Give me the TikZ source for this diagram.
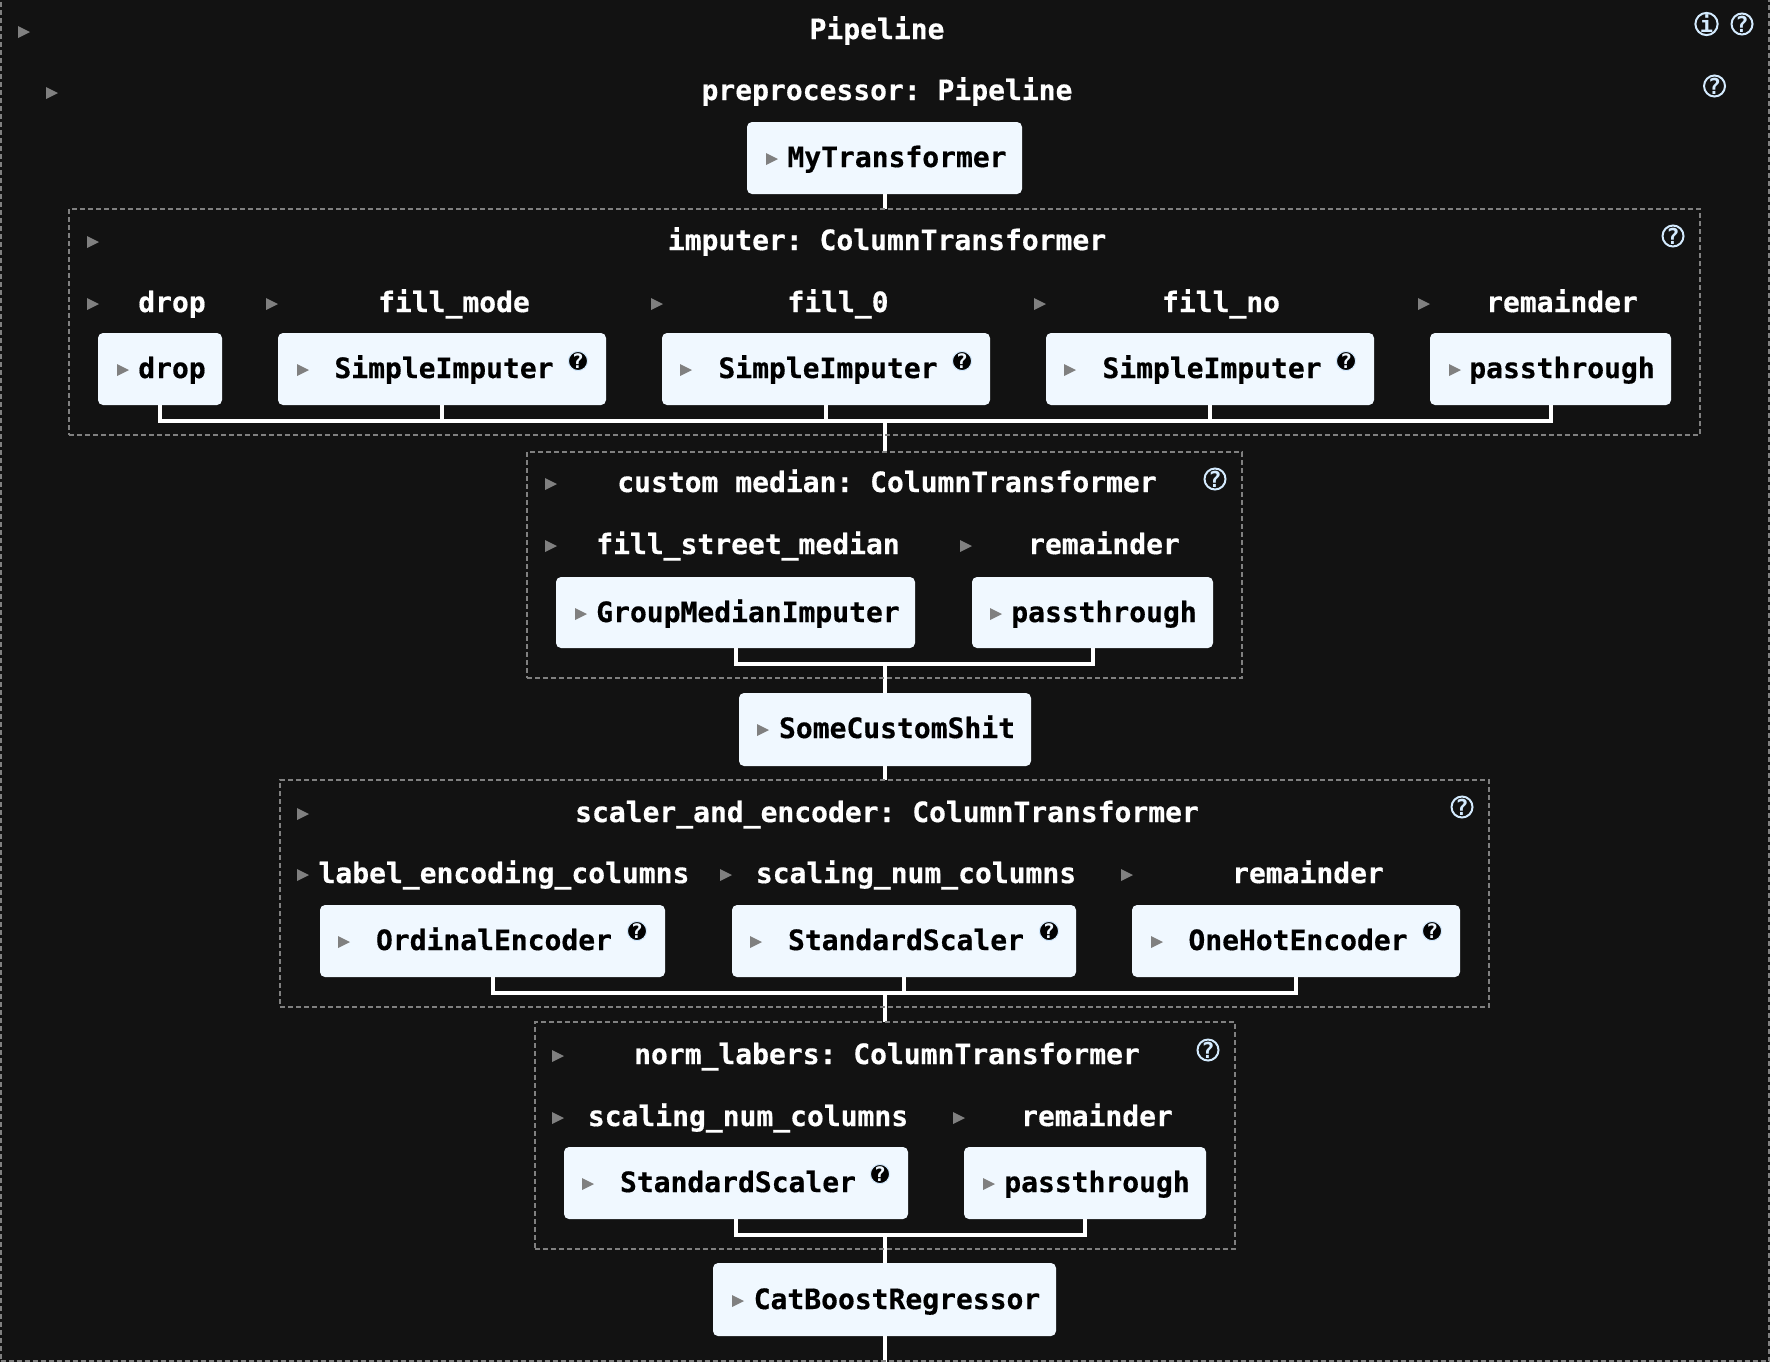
\documentclass[tikz,border=0pt]{standalone}
\usepackage{fontspec}
\setmonofont[BoldFeatures={FakeBold=0.5}]{DejaVu Sans Mono}
\newfontfamily\iconfont{DejaVu Sans Mono Bold}
\usetikzlibrary{fit}
\definecolor{pagebg}{HTML}{121212}
\definecolor{boxbg}{HTML}{F0F8FF}
\definecolor{tricol}{HTML}{808080}
\definecolor{iconcol}{HTML}{D4EBFF}
\pgfdeclarelayer{bglayer}
\pgfdeclarelayer{connlayer}
\pgfsetlayers{bglayer,connlayer,main}
\tikzset{
  every node/.style={outer sep=0pt},
  txt/.style={font=\ttfamily\bfseries\fontsize{14}{14}\selectfont,anchor=base,inner sep=0pt},
  lighttxt/.style={txt,text=white},
  darktxt/.style={txt,text=black},
  stagebox/.style={fill=boxbg,rounded corners=2.5pt,inner sep=0pt,draw=none},
  dashbox/.style={draw=tricol,line width=1pt,dash pattern=on 2.5pt off 1.5pt,inner sep=0pt},
  conn/.style={draw=white,line width=2pt,line join=miter,line cap=butt},
  helpout/.style={circle,draw=iconcol,line width=1pt,minimum size=10pt,inner sep=0pt,text=iconcol,font=\iconfont\fontsize{11}{11}\selectfont},
  helpin/.style={circle,fill=black!90!pagebg,draw=iconcol,line width=0.5pt,minimum size=9.5pt,inner sep=0pt,text=boxbg,font=\iconfont\fontsize{10}{10}\selectfont},
}
\newcommand{\mytri}[2]{\fill[tricol] (#1,#2) ++(-6,-6) -- ++(12,6) -- ++(-12,6) -- cycle;}
\newcommand{\mybox}[5]{\node[stagebox,fit={(#2,#3)(#4,#5)}] (#1) {};}
\newcommand{\mydash}[5]{\node[dashbox,fit={(#2,#3)(#4,#5)}] (#1) {};}
\begin{document}
\begin{tikzpicture}[x=0.5pt,y=-0.5pt]
\useasboundingbox (0,0) rectangle (1770,1362);
\begin{pgfonlayer}{bglayer}
\fill[pagebg] (0,0) rectangle (1770,1362);
\end{pgfonlayer}
\clip (0,0) rectangle (1770,1362);

% dashed containers
\mydash{outer}{0.5}{-10}{1769}{1361}
\mydash{imputer}{69}{209}{1700}{435}
\mydash{custom}{527}{452}{1242}{678}
\mydash{scaler}{280}{780}{1489}{1007}
\mydash{norm}{535}{1022}{1235}{1249}

% boxes
\mybox{mytr}{747}{122}{1022}{194}
\mybox{drop}{98}{333}{222}{405}
\mybox{simpleA}{278}{333}{606}{405}
\mybox{simpleB}{662}{333}{990}{405}
\mybox{simpleC}{1046}{333}{1374}{405}
\mybox{passA}{1430}{333}{1671}{405}
\mybox{group}{556}{577}{915}{648}
\mybox{passB}{972}{577}{1213}{648}
\mybox{shit}{739}{693}{1031}{766}
\mybox{ordinal}{320}{905}{665}{977}
\mybox{stdA}{732}{905}{1076}{977}
\mybox{onehot}{1132}{905}{1460}{977}
\mybox{stdB}{564}{1147}{908}{1219}
\mybox{passC}{964}{1147}{1206}{1219}
\mybox{cat}{713}{1263}{1056}{1336}

% junctions
\coordinate (joinA) at (885,421);
\coordinate (joinB) at (885,664);
\coordinate (joinC) at (885,993);
\coordinate (joinD) at (885,1235);
\coordinate (tail) at (885,1362);

\begin{pgfonlayer}{connlayer}
\draw[conn] (mytr.south -| joinA) -- (joinA |- imputer.north);
\draw[conn] (drop.south) -- (drop.south |- joinA) -- (passA.south |- joinA) -- (passA.south);
\draw[conn] (simpleA.south) -- (simpleA.south |- joinA);
\draw[conn] (simpleB.south) -- (simpleB.south |- joinA);
\draw[conn] (simpleC.south) -- (simpleC.south |- joinA);
\draw[conn] (joinA) -- (joinA |- custom.north);
\draw[conn] (group.south) -- (group.south |- joinB) -- (passB.south |- joinB) -- (passB.south);
\draw[conn] (joinB) -- (joinB |- shit.north);
\draw[conn] (shit.south -| joinB) -- (joinB |- scaler.north);
\draw[conn] (ordinal.south) -- (ordinal.south |- joinC) -- (onehot.south |- joinC) -- (onehot.south);
\draw[conn] (stdA.south) -- (stdA.south |- joinC);
\draw[conn] (joinC) -- (joinC |- norm.north);
\draw[conn] (stdB.south) -- (stdB.south |- joinD) -- (passC.south |- joinD) -- (passC.south);
\draw[conn] (joinD) -- (joinD |- cat.north);
\draw[conn] (cat.south -| tail) -- (tail);
\end{pgfonlayer}

% titles and labels
\node[lighttxt] (tPipe) at (877,39) {Pipeline};
\node[lighttxt] (tPre) at (887,100) {preprocessor: Pipeline};
\node[lighttxt] (tImp) at (887,250) {imputer: ColumnTransformer};
\node[lighttxt] (lDrop) at (172,312) {drop};
\node[lighttxt] (lModeA) at (454,312) {fill\_mode};
\node[lighttxt] (lZero) at (838,312) {fill\_0};
\node[lighttxt] (lNo) at (1221,312) {fill\_no};
\node[lighttxt] (lRemA) at (1562,312) {remainder};
\node[lighttxt] (tCus) at (887,492) {custom median: ColumnTransformer};
\node[lighttxt] (lStreet) at (748,554) {fill\_street\_median};
\node[lighttxt] (lRemB) at (1104,554) {remainder};
\node[lighttxt] (tSca) at (887,822) {scaler\_and\_encoder: ColumnTransformer};
\node[lighttxt] (lLab) at (504,883) {label\_encoding\_columns};
\node[lighttxt] (lNumA) at (916,883) {scaling\_num\_columns};
\node[lighttxt] (lRemC) at (1308,883) {remainder};
\node[lighttxt] (tNor) at (887,1064) {norm\_labers: ColumnTransformer};
\node[lighttxt] (lNumB) at (748,1126) {scaling\_num\_columns};
\node[lighttxt] (lRemD) at (1097,1126) {remainder};

% box texts
\node[darktxt] (xMy) at (897,167) {MyTransformer};
\node[darktxt] (xDrop) at (172,378) {drop};
\node[darktxt] (xSA) at (444,378) {SimpleImputer};
\node[darktxt] (xSB) at (828,378) {SimpleImputer};
\node[darktxt] (xSC) at (1212,378) {SimpleImputer};
\node[darktxt] (xPA) at (1562,378) {passthrough};
\node[darktxt] (xGr) at (748,622) {GroupMedianImputer};
\node[darktxt] (xPB) at (1104,622) {passthrough};
\node[darktxt] (xSh) at (897,738) {SomeCustomShit};
\node[darktxt] (xOr) at (494,950) {OrdinalEncoder};
\node[darktxt] (xStA) at (906,950) {StandardScaler};
\node[darktxt] (xOn) at (1298,950) {OneHotEncoder};
\node[darktxt] (xStB) at (738,1192) {StandardScaler};
\node[darktxt] (xPC) at (1097,1192) {passthrough};
\node[darktxt] (xCa) at (897,1309) {CatBoostRegressor};

% triangles
\mytri{24}{32}\mytri{52}{93}\mytri{772}{159}
\mytri{93}{242}
\mytri{93}{304}\mytri{272}{304}\mytri{657}{304}\mytri{1040}{304}\mytri{1424}{304}
\mytri{123}{370}\mytri{303}{370}\mytri{686}{370}\mytri{1070}{370}\mytri{1455}{370}
\mytri{551}{484}\mytri{551}{546}\mytri{966}{546}\mytri{581}{614}\mytri{996}{614}
\mytri{763}{730}
\mytri{303}{814}\mytri{303}{875}\mytri{726}{875}\mytri{1127}{875}
\mytri{344}{942}\mytri{756}{942}\mytri{1157}{942}
\mytri{558}{1056}\mytri{558}{1118}\mytri{959}{1118}\mytri{588}{1184}\mytri{989}{1184}
\mytri{738}{1301}

% help icons
\node[helpout] (iInfo) at (1706.5,24) {i};
\node[helpout] (iTop) at (1742,24) {?};
\node[helpout] (iPre) at (1714.5,86) {?};
\node[helpout] (iImp) at (1673,236) {?};
\node[helpout] (iCus) at (1215,479) {?};
\node[helpout] (iSca) at (1462,807) {?};
\node[helpout] (iNor) at (1208,1050) {?};
\node[helpin] (bA) at (578,361) {?};
\node[helpin] (bB) at (962,361) {?};
\node[helpin] (bC) at (1346,361) {?};
\node[helpin] (bD) at (637,931) {?};
\node[helpin] (bE) at (1049,931) {?};
\node[helpin] (bF) at (1432,931) {?};
\node[helpin] (bG) at (880,1174) {?};
\end{tikzpicture}
\end{document}
